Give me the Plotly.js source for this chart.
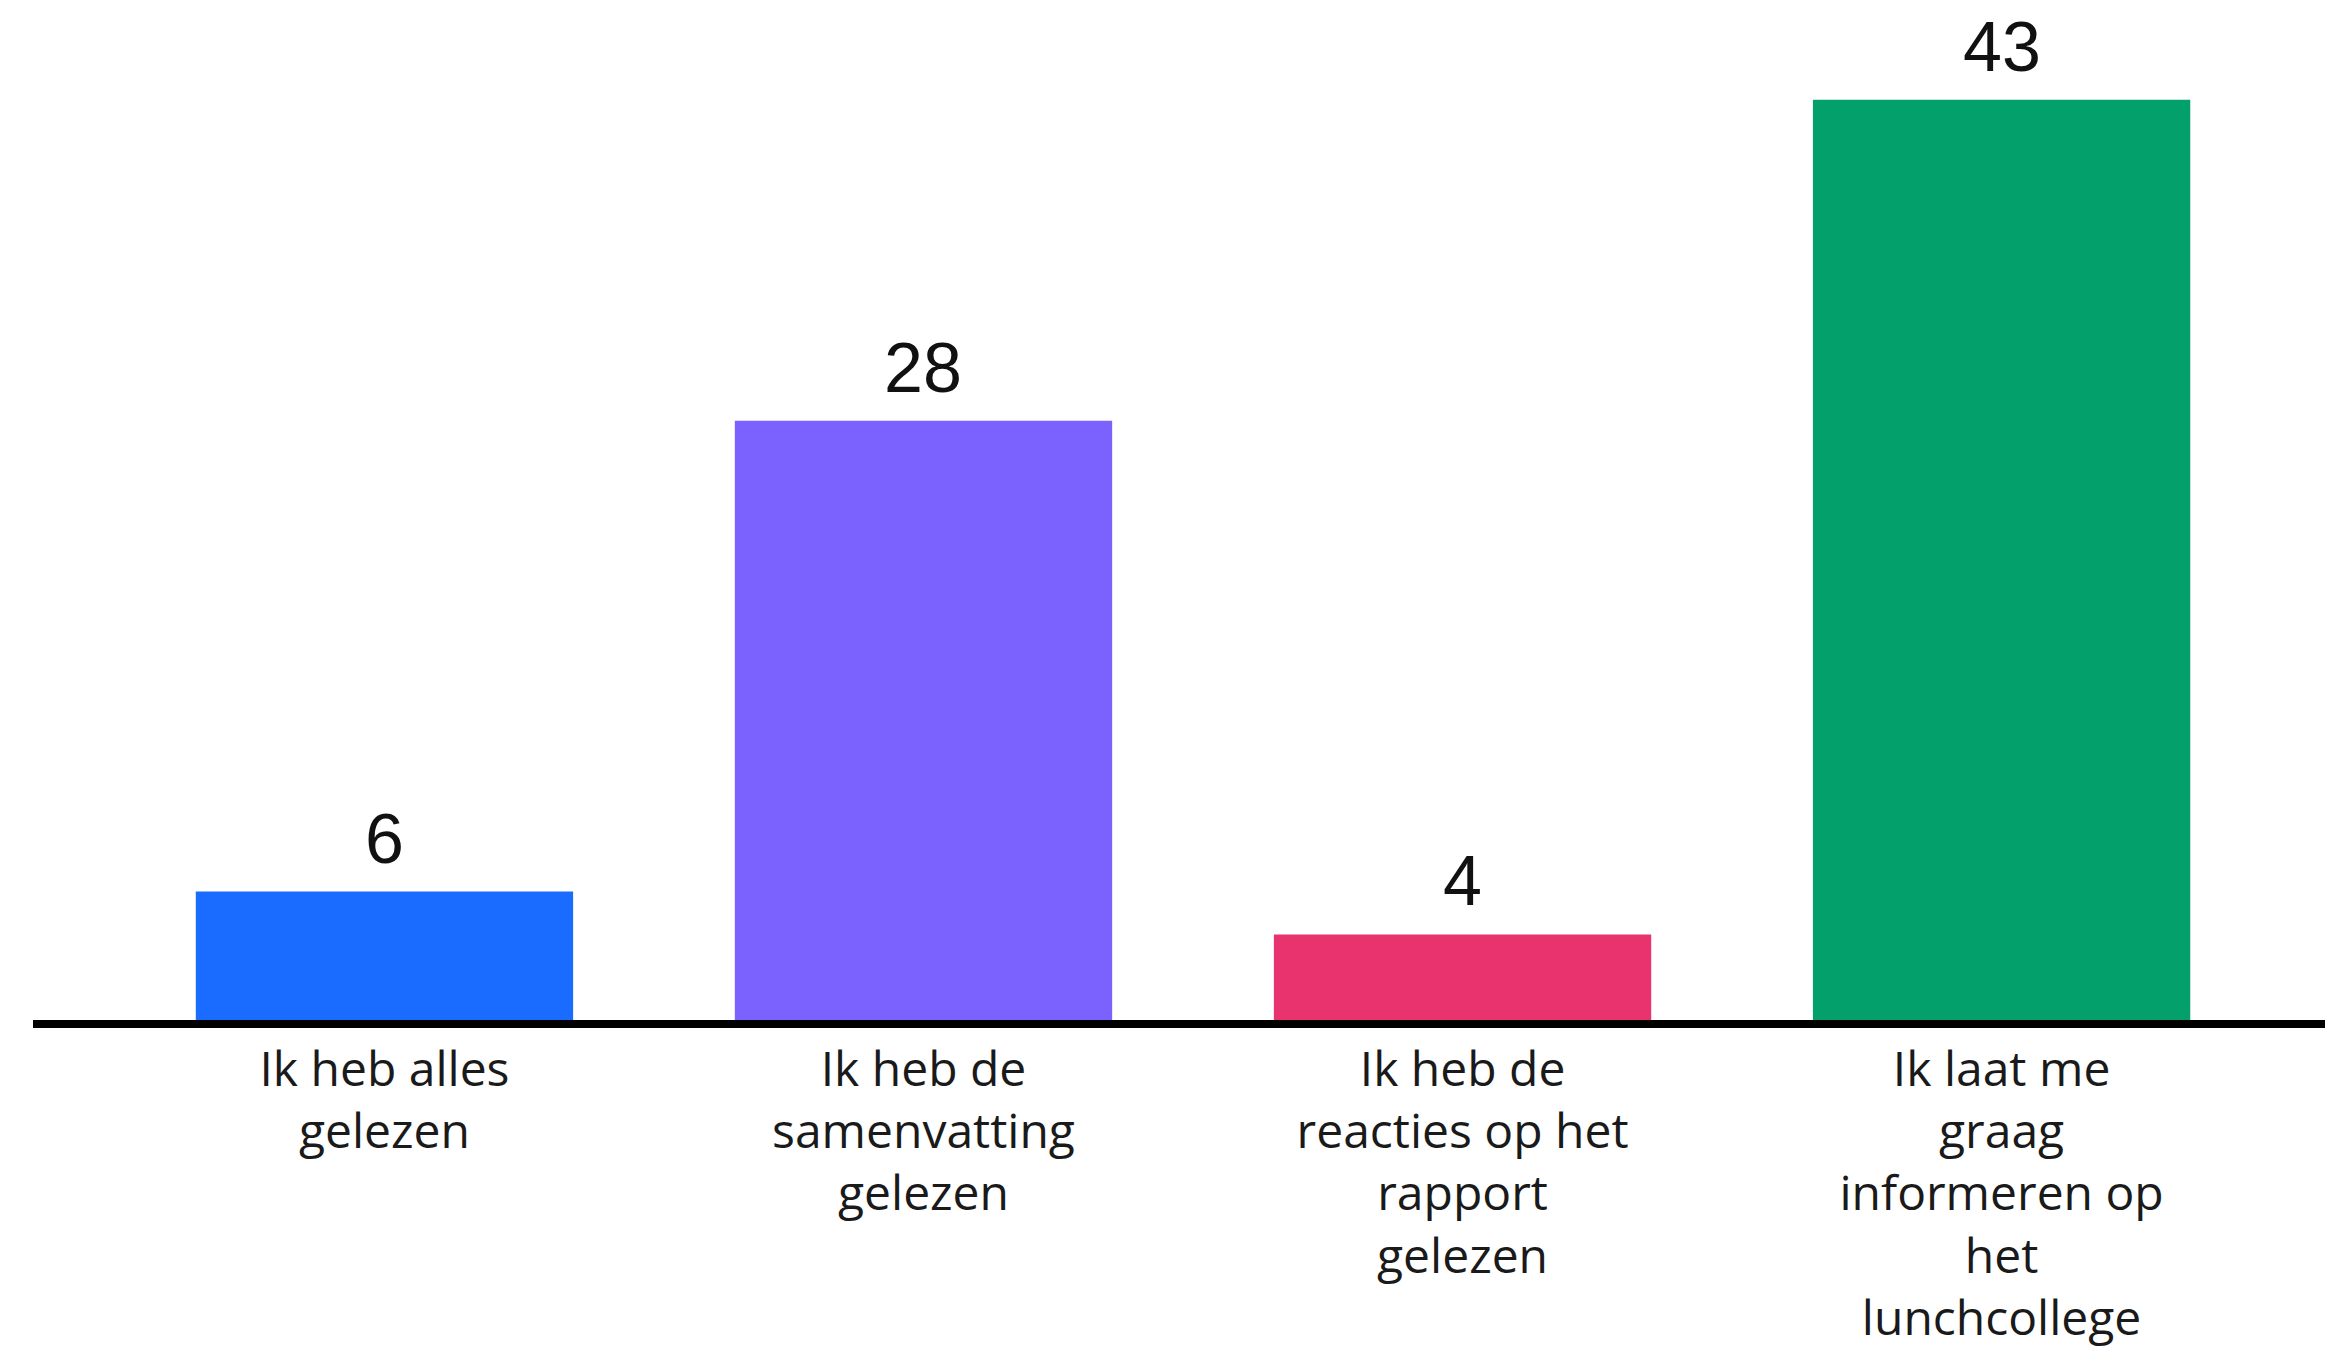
<!DOCTYPE html>
<html>
<head>
<meta charset="utf-8">
<script src="https://cdn.plot.ly/plotly-3.0.1.min.js"></script>
<style>html,body{margin:0;padding:0;background:#fff;}#chart{width:2325px;height:1348px;}</style>
</head>
<body>
<div id="chart"></div>
<script>
const categories = [
  "Ik heb alles<br>gelezen",
  "Ik heb de<br>samenvatting<br>gelezen",
  "Ik heb de<br>reacties op het<br>rapport<br>gelezen",
  "Ik laat me<br>graag<br>informeren op<br>het<br>lunchcollege"
];
const values = [6, 28, 4, 43];
const barColors = ["#1A6BFF", "#7B62FF", "#E8336F", "#03A06B"];

const trace = {
  type: "bar",
  x: categories,
  y: values,
  marker: {color: barColors, line: {width: 0}},
  hoverinfo: "none"
};

const annotations = categories.map((c, i) => ({
  x: c,
  y: values[i],
  xref: "x",
  yref: "y",
  text: String(values[i]),
  showarrow: false,
  yanchor: "bottom",
  yshift: 12,
  font: {family: "Liberation Sans, Arial, sans-serif", size: 70, color: "#111111"}
}));

const layout = {
  width: 2325,
  height: 1348,
  margin: {l: 33, r: 0, t: 0, b: 328},
  paper_bgcolor: "#ffffff",
  plot_bgcolor: "#ffffff",
  showlegend: false,
  bargap: 0.30,
  annotations: annotations,
  xaxis: {
    type: "category",
    range: [-0.652, 3.6],
    showline: true,
    linecolor: "#000000",
    linewidth: 8,
    ticks: "",
    showgrid: false,
    zeroline: false,
    tickfont: {family: "Open Sans, sans-serif", size: 48, color: "#1a1a1a"},
    ticklabelstandoff: 0,
    fixedrange: true
  },
  yaxis: {
    range: [0, 47.66],
    visible: false,
    showgrid: false,
    zeroline: false,
    fixedrange: true
  }
};

Plotly.newPlot("chart", [trace], layout, {displayModeBar: false, staticPlot: true});
</script>
</body>
</html>
